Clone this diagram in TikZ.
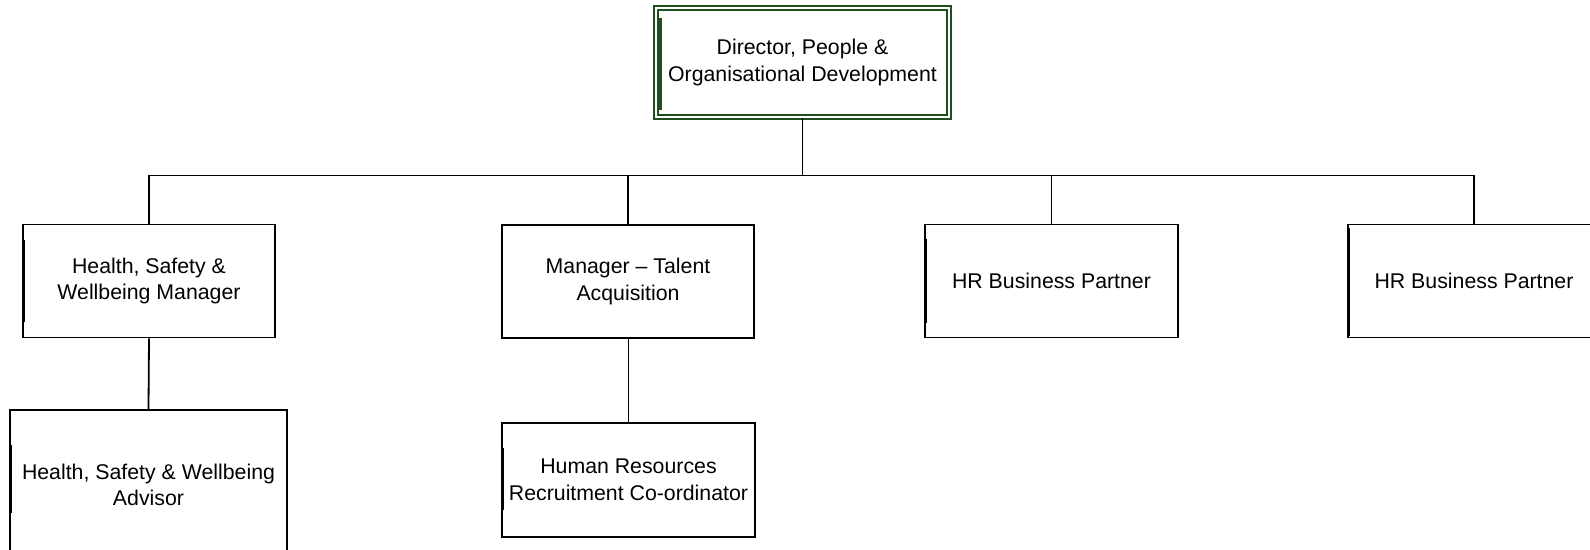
\documentclass[tikz,border=0pt]{standalone}
\usepackage{fontspec}
\setmainfont{Liberation Sans}
\usetikzlibrary{calc}
\definecolor{dirgreen}{RGB}{30,80,30}
\begin{document}
\begin{tikzpicture}[x=1pt,y=-1pt,
  txt/.style={font=\fontsize{21.3}{26.5}\selectfont, align=center, text=black},
  posbox/.style={txt, draw=black, line width=1.8pt, rectangle, inner sep=0pt},
  dirbox/.style={txt, draw=dirgreen, double=white, double distance=2.4pt, line width=1.5pt, rectangle, inner sep=0pt},
  link/.style={draw=black, line width=1.8pt},
  bar/.style={draw=black, line width=3pt},
  gbar/.style={draw=dirgreen, line width=3pt}]
\clip (0,0) rectangle (1590,549);
\fill[white] (0,0) rectangle (1590,549);

\node[dirbox, minimum width=293pt, minimum height=109pt] (dir) at (802.5,62.5) {Director, People \&\\Organisational Development};

\node[posbox, minimum width=252pt, minimum height=113pt] (hsm) at (149,281) {Health, Safety \&\\Wellbeing Manager};
\node[posbox, minimum width=252pt, minimum height=113pt] (mta) at (628,281.5) {Manager -- Talent\\Acquisition};
\node[posbox, minimum width=253pt, minimum height=113pt] (hr1) at (1051.5,281) {HR Business Partner};
\node[posbox, minimum width=252pt, minimum height=113pt] (hr2) at (1474,281) {HR Business Partner};

\node[posbox, minimum width=277pt, minimum height=150pt] (hsa) at (148.5,485) {Health, Safety \& Wellbeing\\Advisor};
\node[posbox, minimum width=253pt, minimum height=114pt] (hrc) at (628.5,480) {Human Resources\\Recruitment Co-ordinator};

% connectors
\coordinate (bus) at (0,175.5);
\draw[link] (dir.south) -- (dir.south |- bus);
\draw[link] (hsm.north) -- (hsm.north |- bus) -- (hr2.north |- bus) -- (hr2.north);
\draw[link] (mta.north) -- (mta.north |- bus);
\draw[link] (hr1.north) -- (hr1.north |- bus);
\draw[link] (hsm.south) -- (hsa.north);
\draw[link] (hrc.north |- mta.south) -- (hrc.north);

% thick left bars
\draw[gbar] ([xshift=5pt,yshift=44.5pt]dir.west) -- ([xshift=5pt,yshift=-47.5pt]dir.west);
\draw[bar] ([xshift=1pt,yshift=41pt]hsm.west) -- ([xshift=1pt,yshift=-41pt]hsm.west);
\draw[bar] ([xshift=1pt,yshift=42pt]hr1.west) -- ([xshift=1pt,yshift=-42pt]hr1.west);
\draw[bar] ([xshift=1pt,yshift=53pt]hr2.west) -- ([xshift=1pt,yshift=-55pt]hr2.west);
\draw[bar] ([xshift=1pt,yshift=40pt]hsa.west) -- ([xshift=1pt,yshift=-28pt]hsa.west);
\draw[bar] ([xshift=1pt,yshift=32pt]hrc.west) -- ([xshift=1pt,yshift=-30pt]hrc.west);
\end{tikzpicture}
\end{document}
